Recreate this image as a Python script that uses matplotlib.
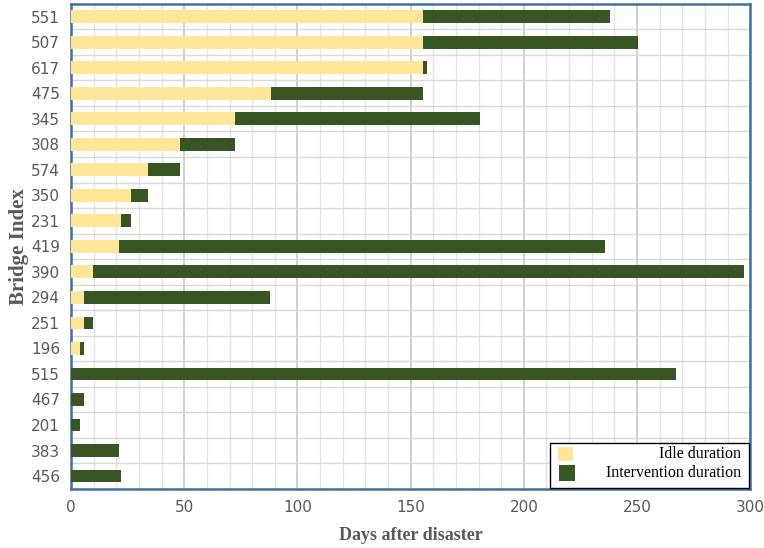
import matplotlib
matplotlib.use("Agg")
import matplotlib.pyplot as plt
from matplotlib.ticker import MultipleLocator, FixedLocator
from matplotlib.patches import Rectangle
import numpy as np

bridges = ["551", "507", "617", "475", "345", "308", "574", "350", "231", "419",
           "390", "294", "251", "196", "515", "467", "201", "383", "456"]
idle = [155.5, 155.5, 155.5, 88.1, 72.2, 48.0, 33.8, 26.3, 22.0, 21.1,
        9.9, 5.8, 5.8, 4.1, 0, 0, 0, 0, 0]
intervention = [82.7, 94.8, 1.7, 67.4, 108.3, 24.2, 14.2, 7.5, 4.3, 214.7,
                287.5, 82.1, 4.1, 1.7, 267.3, 5.6, 4.1, 21.1, 22.0]
xticks = [0, 50, 100, 150, 200, 250, 300]
series_names = ["Idle duration", "Intervention duration"]

idle_c = "#FFE699"
int_c = "#375623"
tick_c = "#595959"

plt.rcParams["font.family"] = ["Liberation Sans Narrow", "DejaVu Sans"]

fig = plt.figure(figsize=(7.64, 5.48), dpi=100)
ax = fig.add_axes([0.093, 0.108, 0.889, 0.885])
ax.set_axisbelow(True)

y = np.arange(len(bridges))
ax.barh(y, idle, height=0.5, color=idle_c, label=series_names[0], zorder=3)
ax.barh(y, intervention, left=idle, height=0.5, color=int_c,
        label=series_names[1], zorder=3)

ax.set_ylim(len(bridges) - 0.5, -0.5)
ax.set_xlim(0, 300)
ax.set_yticks(y)
ax.set_yticklabels(bridges)
ax.xaxis.set_major_locator(FixedLocator(xticks))
ax.xaxis.set_minor_locator(MultipleLocator(10))
ax.yaxis.set_minor_locator(FixedLocator(np.arange(-0.5, len(bridges), 1.0)))

ax.tick_params(axis="both", which="both", length=0)
ax.tick_params(axis="both", labelsize=11, labelcolor=tick_c, pad=8)

ax.grid(True, axis="x", which="major", color="#C8C8C8", lw=1.2)
ax.grid(True, axis="x", which="minor", color="#E4E4E4", lw=1.0)
ax.grid(True, axis="y", which="minor", color="#D9D9D9", lw=1.0)

for s in ax.spines.values():
    s.set_color("#41719C")
    s.set_linewidth(1.8)

ax.set_xlabel("Days after disaster", family="Liberation Serif", fontweight="bold",
              fontsize=13, color="#595959", labelpad=9)
ax.set_ylabel("Bridge Index", family="Liberation Serif", fontweight="bold",
              fontsize=15, color="#595959", labelpad=1)

# legend drawn as figure-level artists so the labels can be right-aligned
T = ax.transAxes
fig.add_artist(Rectangle((0.705, 0.002), 0.293, 0.093, transform=T, facecolor="white",
                         edgecolor="#000000", lw=1.0, zorder=6))
fig.add_artist(Rectangle((0.7175, 0.057), 0.022, 0.030, transform=T, facecolor=idle_c,
                         edgecolor="none", zorder=7))
fig.add_artist(Rectangle((0.7185, 0.017), 0.024, 0.033, transform=T, facecolor=int_c,
                         edgecolor="none", zorder=7))
fig.text(0.987, 0.071, series_names[0], transform=T, ha="right", va="center",
         family="Liberation Serif", fontsize=11.5, color="#000000", zorder=8)
fig.text(0.987, 0.032, series_names[1], transform=T, ha="right", va="center",
         family="Liberation Serif", fontsize=11.5, color="#000000", zorder=8)

fig.savefig("out.png", dpi=100)
